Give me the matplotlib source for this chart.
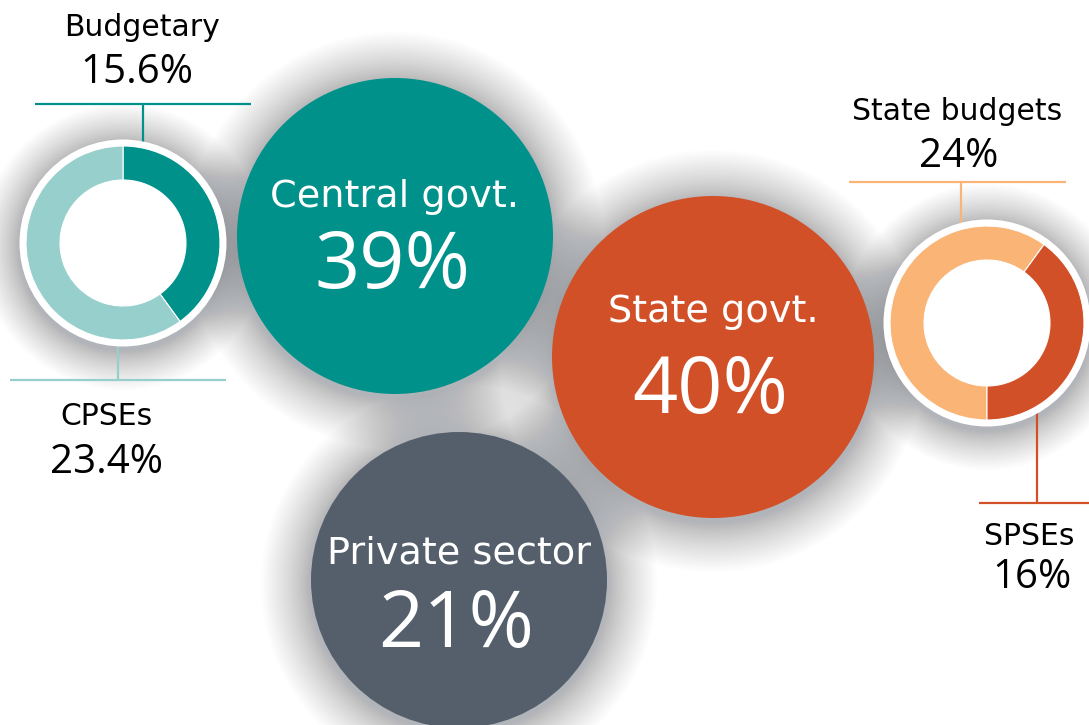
import matplotlib
matplotlib.use("Agg")
import matplotlib.pyplot as plt
from matplotlib.patches import Circle

# ---------------- data ----------------
sectors = ["Central govt.", "State govt.", "Private sector"]
sector_shares = [39, 40, 21]

central_labels = ["Budgetary", "CPSEs"]
central_values = [15.6, 23.4]

state_labels = ["State budgets", "SPSEs"]
state_values = [24, 16]

# ---------------- style ----------------
TEAL = "#00918A"
TEAL_LIGHT = "#97CFCC"
ORANGE = "#D25027"
ORANGE_LIGHT = "#F9B476"
SLATE = "#555F6B"
NUMFONT = "Open Sans"
WORDFONT = "DejaVu Sans"

W, H = 1089, 725
fig = plt.figure(figsize=(W / 100, H / 100), dpi=100)
fig.patch.set_facecolor("white")
ax = fig.add_axes([0, 0, 1, 1])


def Y(y):
    return H - y


def shadow(cx, cy, r, spread=50, n=40, color="#5f646c", a=0.011, dy=4):
    for k in range(n):
        rr = r + spread * (1 - k / n) ** 1.3
        ax.add_patch(Circle((cx, Y(cy + dy)), rr, color=color, alpha=a, lw=0, zorder=1))


# big bubbles: centre x, centre y, radius, colour, label baseline, value baseline
bubbles = [
    (395, 236, 158, TEAL, 207, 288),
    (713, 357, 161, ORANGE, 322, 413),
    (459, 580, 148, SLATE, 563, 647),
]
donuts = [(123, 243), (987, 323)]

for cx, cy, r, *_ in bubbles:
    shadow(cx, cy, r)
for cx, cy in donuts:
    shadow(cx, cy, 103, spread=40)

for (cx, cy, r, col, ty1, ty2), name, share in zip(bubbles, sectors, sector_shares):
    ax.add_patch(Circle((cx, Y(cy)), r, color=col, lw=0, zorder=3))
    ax.text(cx, Y(ty1), name, color="white", fontsize=27.5, family=WORDFONT,
            ha="center", va="baseline", zorder=5)
    ax.text(cx - 3, Y(ty2), f"{share}%", color="white", fontsize=57, family=NUMFONT,
            ha="center", va="baseline", zorder=5)

# donuts
R_OUT, WIDTH = 97, 34
for (cx, cy) in donuts:
    ax.add_patch(Circle((cx, Y(cy)), 103.5, color="white", lw=0, zorder=3))

ax.pie(central_values, colors=[TEAL, TEAL_LIGHT], startangle=90, counterclock=False,
       radius=R_OUT, center=(donuts[0][0], Y(donuts[0][1])), frame=True,
       wedgeprops=dict(width=WIDTH, edgecolor="white", linewidth=0.8, zorder=4))
ax.pie(state_values, colors=[ORANGE_LIGHT, ORANGE], startangle=-90, counterclock=False,
       radius=R_OUT, center=(donuts[1][0], Y(donuts[1][1])), frame=True,
       wedgeprops=dict(width=WIDTH, edgecolor="white", linewidth=0.8, zorder=4))

LW = 1.6


def leader(x0, x1, yh, xv, yv0, yv1, col):
    ax.plot([x0, x1], [Y(yh), Y(yh)], color=col, lw=LW, zorder=2, solid_capstyle="butt")
    ax.plot([xv, xv], [Y(yv0), Y(yv1)], color=col, lw=LW, zorder=2, solid_capstyle="butt")


leader(35, 251, 104, 143, 104, 146, TEAL)
leader(10, 226, 380, 118, 340, 380, TEAL_LIGHT)
leader(849, 1066, 182, 961, 182, 230, ORANGE_LIGHT)
leader(979, 1089, 503, 1037, 407, 503, ORANGE)


def label(x1, y1, x2, y2, name, val, vfmt):
    ax.text(x1, Y(y1), name, color="black", fontsize=21.5, family=WORDFONT,
            ha="center", va="baseline", zorder=5)
    ax.text(x2, Y(y2), vfmt.format(val), color="black", fontsize=29, family=NUMFONT,
            ha="center", va="baseline", zorder=5)


label(142, 36, 137, 83, central_labels[0], central_values[0], "{:.1f}%")
label(107, 425, 107, 473, central_labels[1], central_values[1], "{:.1f}%")
label(957, 120, 959, 167, state_labels[0], state_values[0], "{:d}%")
label(1029, 545, 1032, 588, state_labels[1], state_values[1], "{:d}%")

ax.set_xlim(0, W)
ax.set_ylim(0, H)
ax.set_aspect("equal")
ax.axis("off")
fig.savefig("out.png", dpi=100, facecolor="white")
